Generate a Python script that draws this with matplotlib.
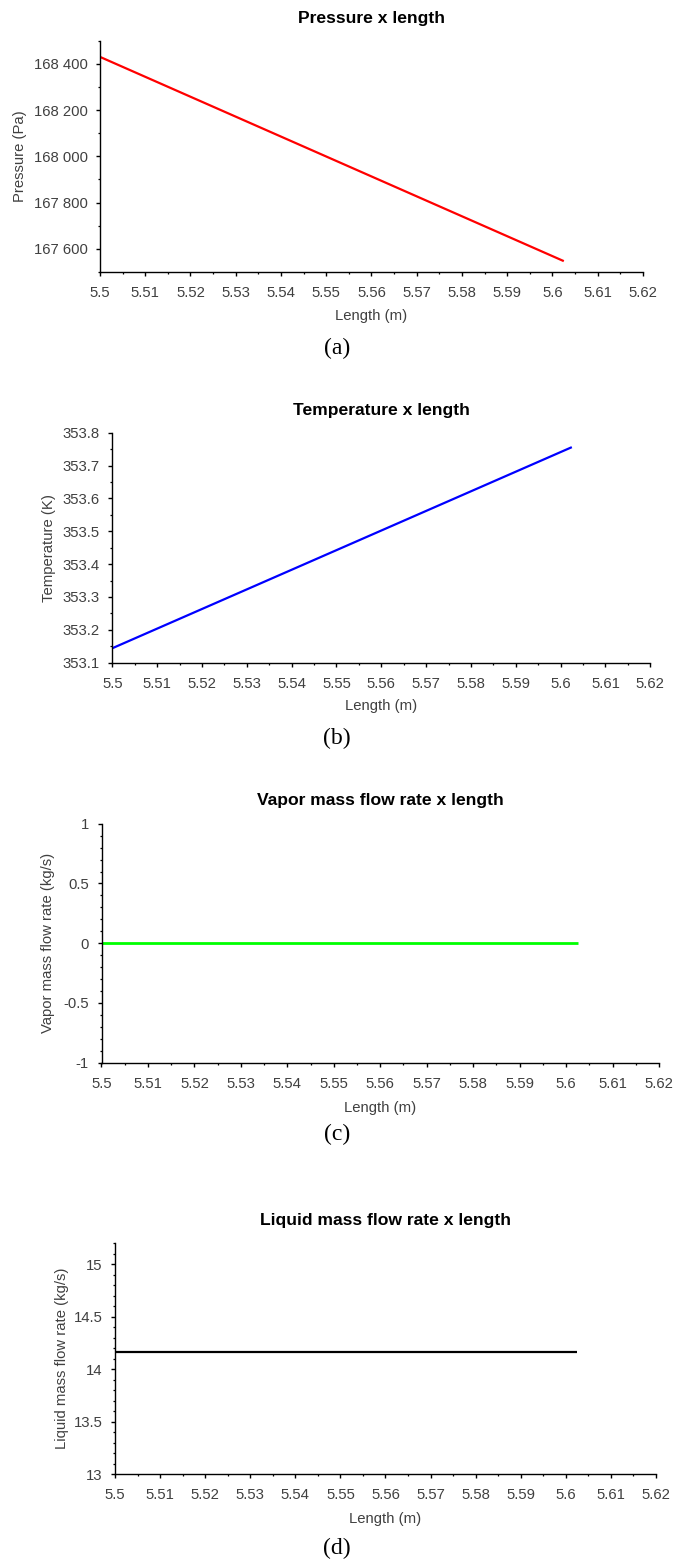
import matplotlib
matplotlib.use("Agg")
import matplotlib.pyplot as plt
from matplotlib.ticker import MultipleLocator, FuncFormatter

# ---------------- data ----------------
length_m = [5.5, 5.6025]
pressure_pa = [168430, 167547]
temperature_k = [353.144, 353.756]
vapor_flow = [0.0, 0.0]
liquid_flow = [14.162, 14.162]

x_ticks = [5.5, 5.51, 5.52, 5.53, 5.54, 5.55, 5.56, 5.57, 5.58, 5.59, 5.6, 5.61, 5.62]

titles = ["Pressure x length", "Temperature x length",
          "Vapor mass flow rate x length", "Liquid mass flow rate x length"]
ylabels = ["Pressure (Pa)", "Temperature (K)",
           "Vapor mass flow rate (kg/s)", "Liquid mass flow rate (kg/s)"]
panel_tags = ["(a)", "(b)", "(c)", "(d)"]
series = [pressure_pa, temperature_k, vapor_flow, liquid_flow]
colors = ["#ff0000", "#0000ff", "#00ff00", "#000000"]
ylims = [(167500, 168500), (353.1, 353.8), (-1, 1), (13, 15.2)]
ymajor = [200, 0.1, 0.5, 0.5]
yminor = [100, 0.05, 0.1, 0.1]

# ---------------- layout (pixels) ----------------
W, H = 689, 1564
# left, right, top, bottom of axes in pixels
boxes = [(100, 643, 40.7, 272), (112.3, 650.3, 432.7, 662.7),
         (101.5, 659, 823.7, 1062.7), (115, 656, 1243.3, 1474.3)]
title_y = [18, 410, 801, 1221]
xlabel_y = [316, 706, 1108, 1519]
ylabel_x = [20, 49, 48, 62]
tag_y = [348, 738, 1134, 1548]

plt.rcParams['font.family'] = ['Liberation Sans', 'DejaVu Sans']
fig = plt.figure(figsize=(W / 100, H / 100), dpi=100)

gray = "#404040"

def ytick_fmt(i):
    if i == 0:
        return FuncFormatter(lambda v, p: f"{v:,.0f}".replace(",", " "))
    return FuncFormatter(lambda v, p: f"{v:g}" if abs(v) > 1e-12 else "0")

for i in range(4):
    l, r, t, b = boxes[i]
    ax = fig.add_axes([l / W, 1 - b / H, (r - l) / W, (b - t) / H])
    ax.plot(length_m, series[i], color=colors[i],
            lw=2.0 if i == 2 else 1.6, solid_capstyle='butt')
    ax.set_xlim(5.5, 5.62)
    ax.set_ylim(*ylims[i])
    ax.set_xticks(x_ticks)
    ax.xaxis.set_minor_locator(MultipleLocator(0.005))
    ax.xaxis.set_major_formatter(FuncFormatter(lambda v, p: f"{v:g}"))
    ax.yaxis.set_major_locator(MultipleLocator(ymajor[i]))
    ax.yaxis.set_minor_locator(MultipleLocator(yminor[i]))
    ax.yaxis.set_major_formatter(ytick_fmt(i))
    for s in ("top", "right"):
        ax.spines[s].set_visible(False)
    for s in ("left", "bottom"):
        ax.spines[s].set_linewidth(1.0)
    ax.tick_params(which='major', direction='out', length=3, width=1.0,
                   labelsize=10.7, labelcolor=gray)
    ax.tick_params(axis='x', which='major', pad=7)
    ax.tick_params(axis='y', which='major', pad=6)
    ax.tick_params(which='minor', direction='out', length=1.6, width=0.9)

    # texts
    cx = (l + r) / 2
    fig.text(cx / W, 1 - title_y[i] / H, titles[i], ha='center', va='center',
             fontsize=12.6, fontweight='bold', color='black')
    fig.text(cx / W, 1 - xlabel_y[i] / H, "Length (m)", ha='center', va='center',
             fontsize=10.7, color=gray)
    fig.text(ylabel_x[i] / W, 1 - (t + b) / 2 / H, ylabels[i], ha='center',
             va='center', rotation=90, fontsize=10.7, color=gray)
    fig.text(337 / W, 1 - tag_y[i] / H, panel_tags[i], ha='center', va='center',
             fontsize=17, family=['Liberation Serif', 'DejaVu Serif'], color='black')

fig.savefig("out.png", dpi=100)
